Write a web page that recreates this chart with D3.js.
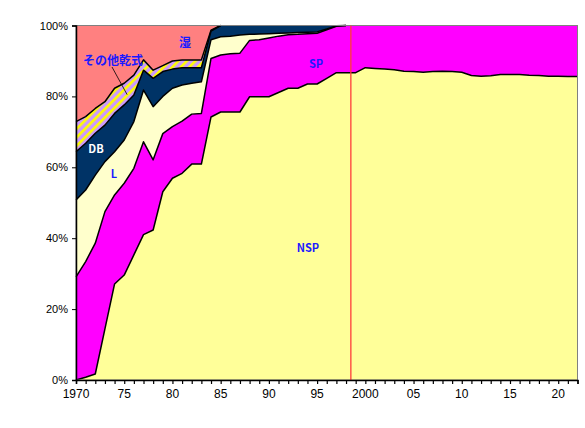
<!DOCTYPE html>
<html>
<head>
<meta charset="utf-8">
<script src="https://cdn.jsdelivr.net/npm/d3@7"></script>
<style>
  body { margin: 0; background: #fff; }
  svg { display: block; }
  text { font-family: "Liberation Sans", "Noto Sans CJK JP", sans-serif; }
</style>
</head>
<body>
<svg id="chart" width="585" height="428"></svg>
<script>
    var w = 585;
    var h = 428;
    var plotL = 76, plotR = 577.5, plotT = 25.5, plotB = 380;

    // years on the x axis, one point per year
    var years = d3.range(1970, 2023);
    var keys = ["NSP", "SP", "L", "DB", "other", "wet"];

    // share of capacity by kiln type (%)
    var nsp = [0, 0.8, 1.7, 14.4, 27.1, 29.6, 35.3, 41.0, 42.3, 53.1, 56.9, 58.3, 60.9, 60.9,
               74.2, 75.6, 75.6, 75.6, 79.9, 79.9, 79.9, 81.1, 82.3, 82.3, 83.5, 83.5, 85.1, 86.7,
               86.7, 86.7, 88.1, 87.9, 87.7, 87.5, 87.1, 87.0, 86.8, 87.0, 87.1, 87.0, 86.8,
               85.9, 85.7, 85.8, 86.2, 86.2, 86.2, 86.0, 85.9, 85.7, 85.7, 85.6, 85.6];
    var sp = [29.1, 32.6, 36.9, 33.1, 25.1, 25.9, 24.4, 26.2, 19.8, 16.4, 14.6, 14.7, 14.1, 14.3,
              16.5, 16.1, 16.4, 16.6, 15.9, 16.1, 16.6, 15.9, 15.1, 15.2, 14.2, 14.3, 13.7, 13.1,
              13.3, 13.3, 11.9, 12.1, 12.3, 12.5, 12.9, 13.0, 13.2, 13.0, 12.9, 13.0, 13.2,
              14.1, 14.3, 14.2, 13.8, 13.8, 13.8, 14.0, 14.1, 14.3, 14.3, 14.4, 14.4];
    var lepol = [21.7, 20.2, 19.2, 14.1, 12.2, 12.2, 13.2, 14.6, 15.0, 10.5, 10.8, 10.2, 8.7, 8.9,
                 5.3, 5.1, 5.0, 5.1, 1.7, 1.6, 1.2, 0.8, 0.5, 0.5, 0.4, 0.4, 0.2, 0.1,
                 0, 0, 0, 0, 0, 0, 0, 0, 0, 0, 0, 0, 0,
                 0, 0, 0, 0, 0, 0, 0, 0, 0, 0, 0, 0];
    var db = [13.6, 13.2, 11.8, 10.3, 10.8, 9.9, 7.5, 5.6, 8.0, 7.0, 5.4, 4.9, 4.4, 4.0,
              2.4, 3.2, 3.0, 2.7, 2.5, 2.4, 2.3, 2.2, 2.1, 2.0, 1.9, 1.8, 1.0, 0.1,
              0, 0, 0, 0, 0, 0, 0, 0, 0, 0, 0, 0, 0,
              0, 0, 0, 0, 0, 0, 0, 0, 0, 0, 0, 0];
    var otherDry = [8.5, 7.5, 7.0, 6.6, 7.1, 6.1, 5.6, 2.9, 2.3, 1.7, 2.3, 2.2, 2.2, 2.2,
                    0.3, 0, 0, 0, 0, 0, 0, 0, 0, 0, 0, 0, 0, 0,
                    0, 0, 0, 0, 0, 0, 0, 0, 0, 0, 0, 0, 0,
                    0, 0, 0, 0, 0, 0, 0, 0, 0, 0, 0, 0];
    var wet = [27.1, 25.7, 23.4, 21.5, 17.7, 16.3, 14.0, 9.7, 12.6, 11.3, 10.0, 9.7, 9.7, 9.7,
               1.3, 0, 0, 0, 0, 0, 0, 0, 0, 0, 0, 0, 0, 0,
               0, 0, 0, 0, 0, 0, 0, 0, 0, 0, 0, 0, 0,
               0, 0, 0, 0, 0, 0, 0, 0, 0, 0, 0, 0];

    var xTickYears = [1970, 1975, 1980, 1985, 1990, 1995, 2000, 2005, 2010, 2015, 2020];
    var xTickLabels = ["1970", "75", "80", "85", "90", "95", "2000", "05", "10", "15", "20"];
    var yTicks = [0, 20, 40, 60, 80, 100];
    var markYear = 1998.5;

    var colorKey = {"NSP": "#FFFF99",
                    "SP": "#FF00FF",
                    "L": "#FFFFCC",
                    "DB": "#003366",
                    "other": "url(#hatch)",
                    "wet": "#FF8080"};

    var rows = years.map(function(yr, i) {
        return {year: yr, NSP: nsp[i], SP: sp[i], L: lepol[i], DB: db[i], other: otherDry[i], wet: wet[i]};
    });

    var x = d3.scaleLinear().domain([1970, 2022]).range([plotL, plotR]);
    var y = d3.scaleLinear().domain([0, 100]).range([plotB, plotT]);

    var svg = d3.select("#chart");

    // stripes for the "other dry" band
    var pat = svg.append("defs").append("pattern")
        .attr("id", "hatch")
        .attr("patternUnits", "userSpaceOnUse")
        .attr("width", 6).attr("height", 6)
        .attr("patternTransform", "rotate(45)");
    pat.append("rect").attr("width", 6).attr("height", 6).attr("fill", "#CC99FF");
    pat.append("rect").attr("width", 2.6).attr("height", 6).attr("fill", "#FFFF00");

    var series = d3.stack().keys(keys)(rows);

    var area = d3.area()
        .x(function(d) { return x(d.data.year); })
        .y0(function(d) { return y(d[0]); })
        .y1(function(d) { return y(d[1]); });

    svg.append("g").selectAll("path")
        .data(series)
        .enter()
        .append("path")
        .attr("d", area)
        .attr("fill", function(d) { return colorKey[d.key]; });

    // black outlines on top of each band (skip where it runs along 100%)
    var topLine = d3.line()
        .defined(function(d, i, arr) { return d[1] < 99.95 || (i > 0 && arr[i - 1][1] < 99.95); })
        .x(function(d) { return x(d.data.year); })
        .y(function(d) { return y(d[1]); });

    svg.append("g").selectAll("path")
        .data(series.slice(0, 5))
        .enter()
        .append("path")
        .attr("d", function(s) { return topLine(s); })
        .attr("fill", "none")
        .attr("stroke", "#000")
        .attr("stroke-width", 1.5)
        .attr("stroke-linejoin", "round");

    // plot border
    svg.append("rect")
        .attr("x", plotL).attr("y", plotT)
        .attr("width", plotR - plotL).attr("height", plotB - plotT)
        .attr("fill", "none")
        .attr("stroke", "#808080")
        .attr("stroke-width", 1);

    // red marker line
    svg.append("line")
        .attr("x1", x(markYear)).attr("x2", x(markYear))
        .attr("y1", plotT).attr("y2", plotB)
        .attr("stroke", "#FF3C3C")
        .attr("stroke-width", 1.3);

    // axes
    var xAxis = d3.axisBottom(x)
        .tickValues(years)
        .tickSize(4)
        .tickFormat("");
    svg.append("g")
        .attr("transform", "translate(0," + plotB + ")")
        .call(xAxis)
        .call(function(g) {
            g.select(".domain").attr("stroke", "#000").attr("stroke-width", 1.5);
            g.selectAll(".tick line").attr("stroke", "#000").attr("stroke-width", 1.2);
        });

    svg.append("g").selectAll("text")
        .data(xTickYears)
        .enter()
        .append("text")
        .attr("x", function(d) { return x(d); })
        .attr("y", 398)
        .attr("text-anchor", "middle")
        .style("font-size", "12px")
        .text(function(d, i) { return xTickLabels[i]; });

    var yAxis = d3.axisLeft(y)
        .tickValues(yTicks)
        .tickSize(4)
        .tickPadding(4)
        .tickFormat(function(d) { return d + "%"; });
    svg.append("g")
        .attr("transform", "translate(" + plotL + ",0)")
        .call(yAxis)
        .call(function(g) {
            g.select(".domain").attr("stroke", "#000").attr("stroke-width", 1.5);
            g.selectAll(".tick line").attr("stroke", "#000");
            g.selectAll(".tick text")
                .style("font-size", "11px")
                .style("font-family", "'Liberation Sans', sans-serif")
                .attr("fill", "#000");
        });

    // band labels
    var labels = [
        {t: "湿", x: 185, y: 47, c: "#1a1aff", s: 12},
        {t: "その他乾式", x: 113, y: 65, c: "#1a1aff", s: 12},
        {t: "DB", x: 96, y: 153, c: "#ffffff", s: 11},
        {t: "L", x: 114, y: 178, c: "#1a1aff", s: 11},
        {t: "SP", x: 316, y: 68, c: "#1a1aff", s: 11},
        {t: "NSP", x: 308, y: 252, c: "#1a1aff", s: 11}
    ];
    svg.append("g").selectAll("text")
        .data(labels)
        .enter()
        .append("text")
        .attr("x", function(d) { return d.x; })
        .attr("y", function(d) { return d.y; })
        .attr("text-anchor", "middle")
        .attr("fill", function(d) { return d.c; })
        .style("font-size", function(d) { return d.s + "px"; })
        .style("font-weight", "bold")
        .style("font-family", "'Noto Sans CJK JP', 'Liberation Sans', sans-serif")
        .text(function(d) { return d.t; });

    // leader from その他乾式 to its band
    svg.append("line")
        .attr("x1", 112).attr("y1", 67)
        .attr("x2", x(1975.3)).attr("y2", y(80.5))
        .attr("stroke", "#000")
        .attr("stroke-width", 0.8);
</script>
</body>
</html>
